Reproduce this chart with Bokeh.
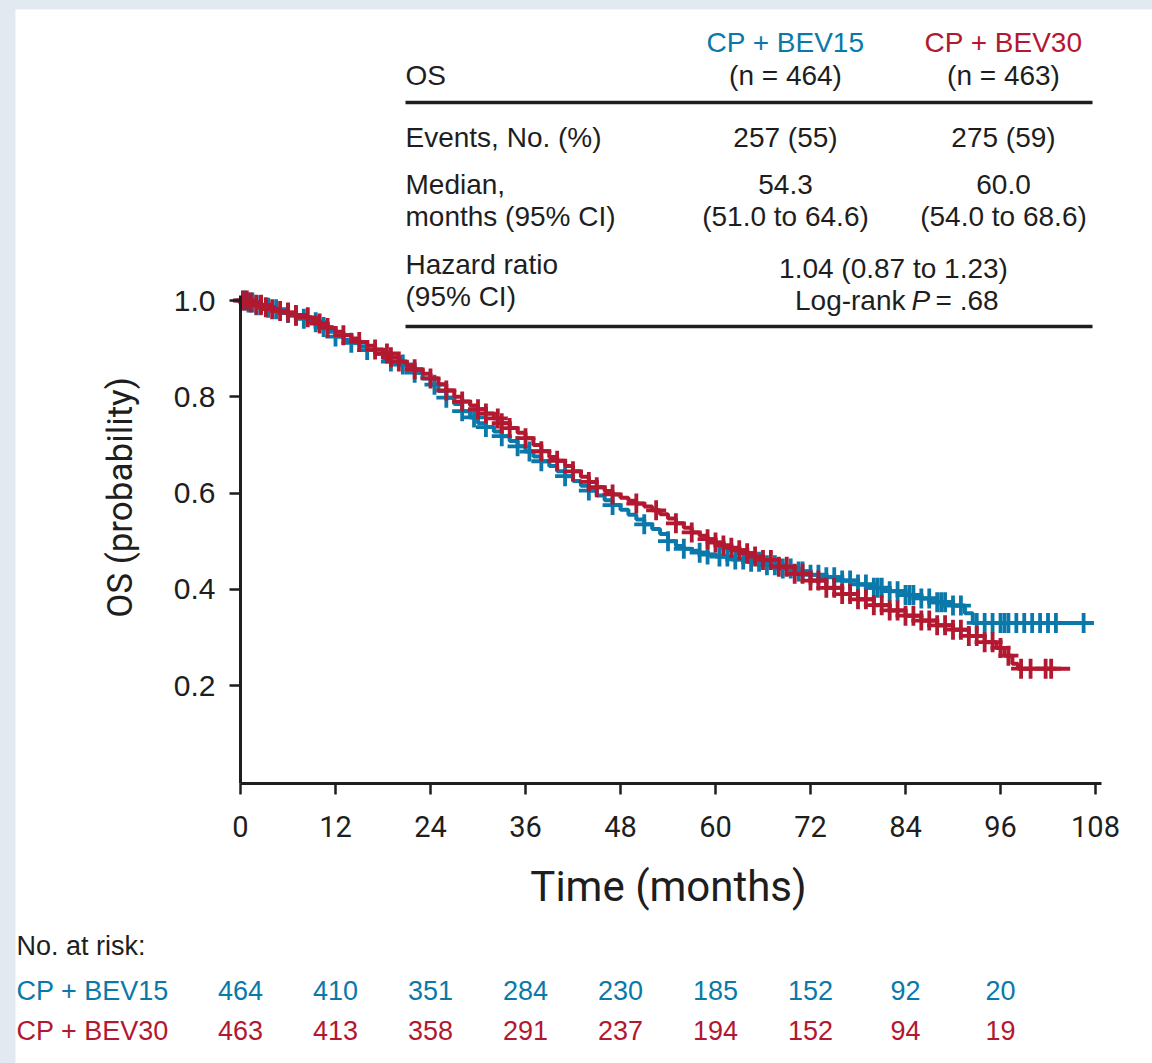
import numpy as np
from bokeh.plotting import figure
from bokeh.layouts import column
from bokeh.models import Range1d, FixedTicker, NumeralTickFormatter
from bokeh.core.properties import value
from bokeh.embed import file_html
from bokeh.resources import INLINE

# ---------------- data ----------------
arms = ["CP + BEV15", "CP + BEV30"]
arm_n = ["(n = 464)", "(n = 463)"]
events = ["257 (55)", "275 (59)"]
median = ["54.3", "60.0"]
median_ci = ["(51.0 to 64.6)", "(54.0 to 68.6)"]
hazard_ratio = "1.04 (0.87 to 1.23)"

bev15_t = [0, 1, 2, 3, 4, 5, 6, 7, 8, 9, 10, 11, 12, 13, 14, 15, 16, 17, 18, 19, 20,
           21, 22, 23, 24, 25, 26, 27, 28, 29, 30, 31, 32, 33, 34, 35, 36, 37, 38, 39, 40,
           41, 42, 43, 44, 45, 46, 47, 48, 49, 50, 51, 52, 53, 54, 55, 56, 57, 58, 59, 60,
           62, 64, 66, 68, 70, 72, 74, 76, 78, 80, 82, 84, 86, 88, 90, 91.5, 92.5, 107.8]
bev15_s = [1.0, 0.996, 0.99, 0.985, 0.982, 0.978, 0.974, 0.968, 0.962, 0.955, 0.945,
           0.935, 0.925, 0.918, 0.912, 0.905, 0.897, 0.889, 0.880, 0.873, 0.867,
           0.860, 0.850, 0.838, 0.825, 0.812, 0.798, 0.785, 0.770, 0.757, 0.745,
           0.737, 0.728, 0.718, 0.708, 0.697, 0.686, 0.676, 0.666, 0.656, 0.645,
           0.635, 0.625, 0.615, 0.605, 0.595, 0.585, 0.575, 0.565, 0.555, 0.545,
           0.535, 0.525, 0.515, 0.500, 0.490, 0.484, 0.480, 0.476, 0.472, 0.468,
           0.462, 0.457, 0.450, 0.443, 0.437, 0.430, 0.425, 0.418, 0.410, 0.403,
           0.396, 0.388, 0.381, 0.373, 0.366, 0.350, 0.330, 0.330]

bev30_t = [0, 1, 2, 3, 4, 5, 6, 7, 8, 9, 10, 11, 12, 13, 14, 15, 16, 17, 18, 19, 20,
           21, 22, 23, 24, 25, 26, 27, 28, 29, 30, 31, 32, 33, 34, 35, 36, 37, 38, 39, 40,
           41, 42, 43, 44, 45, 46, 47, 48, 49, 50, 51, 52, 53, 54, 55, 56, 57, 58, 59, 60,
           61, 62, 63, 64, 65, 66, 68, 70, 72, 74, 76, 78, 80, 82, 84, 86, 88, 90, 92, 94,
           95.5, 96.5, 97.5, 98.2, 104.8]
bev30_s = [1.0, 0.996, 0.991, 0.986, 0.982, 0.978, 0.975, 0.970, 0.965, 0.960, 0.952,
           0.943, 0.935, 0.928, 0.921, 0.914, 0.906, 0.898, 0.890, 0.882, 0.873,
           0.865, 0.857, 0.848, 0.838, 0.826, 0.813, 0.800, 0.790, 0.782, 0.774,
           0.765, 0.755, 0.745, 0.735, 0.725, 0.714, 0.700, 0.687, 0.675, 0.667,
           0.656, 0.645, 0.634, 0.623, 0.612, 0.604, 0.597, 0.590, 0.584, 0.578,
           0.572, 0.564, 0.556, 0.547, 0.537, 0.528, 0.518, 0.511, 0.504, 0.497,
           0.491, 0.486, 0.481, 0.475, 0.468, 0.461, 0.447, 0.432, 0.418, 0.403,
           0.390, 0.379, 0.367, 0.356, 0.345, 0.335, 0.325, 0.316, 0.303, 0.290,
           0.278, 0.262, 0.245, 0.235, 0.235]

bev15_censor = [0.5, 1, 1.5, 2, 2.5, 3.5, 4.5, 6, 7, 8, 9.5, 10.5, 12, 14, 16, 19, 20.5,
                22, 24.5, 26, 28, 29.5, 31, 33, 35, 36.5, 38, 41, 44, 47, 51, 54, 56, 58,
                59, 60.5, 61.5, 62.5, 63.5, 64.5, 65.5, 66.5, 67.5, 68.5, 69.5, 70.5, 71,
                72, 73, 74, 75, 76, 77, 78, 79, 80, 80.5, 81, 82, 83, 84, 84.5, 85, 86, 87,
                88, 88.5, 89, 90, 91, 93, 94, 95, 96, 96.5, 97, 98, 99, 100, 101, 102,
                103, 106.5]
bev30_censor = [0.3, 0.8, 1.3, 2, 2.6, 3.2, 4, 5, 6, 7, 8.5, 10, 11, 13, 15, 17, 18.5,
                19, 20, 22, 24, 26, 28, 30, 31, 32.5, 33, 34, 36, 38, 40, 42, 44, 45, 47,
                50, 52.5, 55, 57, 59, 60, 61, 62, 63, 64, 65, 66, 67, 68, 69, 70, 71, 72,
                73, 74, 75, 76, 77, 78, 79, 80, 81, 82, 83, 84, 85, 86, 87, 88, 89, 90, 91,
                92, 93, 94, 95, 96, 97, 98.6, 99.8, 101.7, 102.4]

x_ticks = [0, 12, 24, 36, 48, 60, 72, 84, 96, 108]
y_ticks = [0.2, 0.4, 0.6, 0.8, 1.0]

risk_times = [0, 12, 24, 36, 48, 60, 72, 84, 96]
risk_bev15 = [464, 410, 351, 284, 230, 185, 152, 92, 20]
risk_bev30 = [463, 413, 358, 291, 237, 194, 152, 94, 19]

# ---------------- style ----------------
BLUE = "#0a79aa"
RED = "#b2182f"
INK = "#1e1e1e"
BG = "#e2e9f0"
FONT = "Liberation Sans"
COND = "Roboto"

# page geometry (pixels)
PX_PER_MONTH = 95.0 / 12.0
PX_PER_UNIT = 481.25
AXIS_X0 = 240.0      # page x of month 0
AXIS_Y0 = 781.25     # page y of probability 0


def mx(px):
    return (px - AXIS_X0) / PX_PER_MONTH


def my(py):
    return (AXIS_Y0 - py) / PX_PER_UNIT


# ---------------- figure (frame covers the whole white panel) ----------------
W = 1137
H = 1054
p = figure(width=W, height=H, output_backend="svg", toolbar_location=None,
           min_border=0,
           x_range=Range1d(mx(15), mx(1152)), y_range=Range1d(my(1063), my(9)))
p.margin = (9, 0, 0, 15)
p.background_fill_color = "white"
p.border_fill_color = "white"
p.outline_line_color = None
p.xgrid.visible = False
p.ygrid.visible = False

for ax in (p.xaxis[0], p.yaxis[0]):
    ax.axis_line_width = 3
    ax.axis_line_color = INK
    ax.major_tick_line_width = 2.5
    ax.major_tick_line_color = INK
    ax.major_tick_out = 11
    ax.major_tick_in = 0
    ax.minor_tick_line_color = None

p.xaxis.fixed_location = my(783)
p.xaxis.ticker = FixedTicker(ticks=x_ticks)
p.xaxis.bounds = (0, 108.7)
p.xaxis.major_label_text_font = COND
p.xaxis.major_label_text_font_size = "29px"
p.xaxis.major_label_text_color = INK
p.xaxis.major_label_standoff = 21

p.yaxis.fixed_location = 0
p.yaxis.ticker = FixedTicker(ticks=y_ticks)
p.yaxis.formatter = NumeralTickFormatter(format="0.0")
p.yaxis.bounds = (my(783), 1.011)
p.yaxis.major_label_text_font = FONT
p.yaxis.major_label_text_font_size = "30px"
p.yaxis.major_label_text_color = INK
p.yaxis.major_label_standoff = 14

# axis titles
p.text(x=[mx(668)], y=[my(886)], text=["Time (months)"], text_font=value(COND),
       text_font_size="42px", text_color=INK, text_align="center",
       text_baseline="middle")
p.text(x=[mx(120)], y=[my(497)], text=["OS (probability)"], angle=np.pi / 2,
       text_font=value(COND), text_font_size="35px", text_color=INK,
       text_align="center", text_baseline="middle")

# KM curves
for t, s, cens, col in ((bev15_t, bev15_s, bev15_censor, BLUE),
                        (bev30_t, bev30_s, bev30_censor, RED)):
    p.step(t, s, mode="after", line_color=col, line_width=4)
    tt = np.asarray(t)
    ss = np.asarray(s)
    idx = np.searchsorted(tt, np.asarray(cens), side="right") - 1
    p.scatter(cens, ss[idx], marker="cross", size=20, line_color=col, line_width=3.8)

# summary table
COL1, COL2, COLHR, LEFT = 785, 1003, 893, 405
p.segment(x0=[mx(LEFT)] * 2, x1=[mx(1092)] * 2, y0=[my(102), my(326)],
          y1=[my(102), my(326)], line_color=INK, line_width=3.5)

txt = dict(text_font=value(FONT), text_font_size="28px", text_baseline="middle")
p.text(x=[mx(LEFT)] * 6,
       y=[my(75), my(137), my(184), my(216), my(264), my(296)],
       text=["OS", "Events, No. (%)", "Median,", "months (95% CI)", "Hazard ratio",
             "(95% CI)"],
       text_color=INK, text_align="left", **txt)
p.text(x=[mx(COL1), mx(COL2)], y=[my(42)] * 2, text=arms,
       text_color=[BLUE, RED], text_align="center", **txt)
p.text(x=[mx(COL1), mx(COL2)] * 4,
       y=[my(75)] * 2 + [my(137)] * 2 + [my(184)] * 2 + [my(216)] * 2,
       text=arm_n + events + median + median_ci,
       text_color=INK, text_align="center", **txt)
p.text(x=[mx(COLHR)], y=[my(268)], text=[hazard_ratio], text_color=INK,
       text_align="center", **txt)
p.text(x=[mx(905)], y=[my(300)], text=["Log-rank"], text_color=INK,
       text_align="right", **txt)
p.text(x=[mx(911)], y=[my(300)], text=["P"], text_color=INK, text_align="left",
       text_font_style="italic", **txt)
p.text(x=[mx(935)], y=[my(300)], text=["= .68"], text_color=INK,
       text_align="left", **txt)

# ---------------- at-risk table ----------------
ROW_Y = [my(990), my(1030)]
rtxt = dict(text_font=value(FONT), text_font_size="27px", text_baseline="middle")
p.text(x=[mx(16)], y=[my(945)], text=["No. at risk:"], text_color=INK,
       text_align="left", **rtxt)
p.text(x=[mx(16)] * 2, y=ROW_Y, text=arms, text_color=[BLUE, RED],
       text_align="left", **rtxt)
p.text(x=risk_times, y=[ROW_Y[0]] * len(risk_times), text=[str(v) for v in risk_bev15],
       text_color=BLUE, text_align="center", **rtxt)
p.text(x=risk_times, y=[ROW_Y[1]] * len(risk_times), text=[str(v) for v in risk_bev30],
       text_color=RED, text_align="center", **rtxt)

layout = column(p, spacing=0, styles={"background-color": BG})
open("out.html", "w").write(file_html(layout, INLINE))
